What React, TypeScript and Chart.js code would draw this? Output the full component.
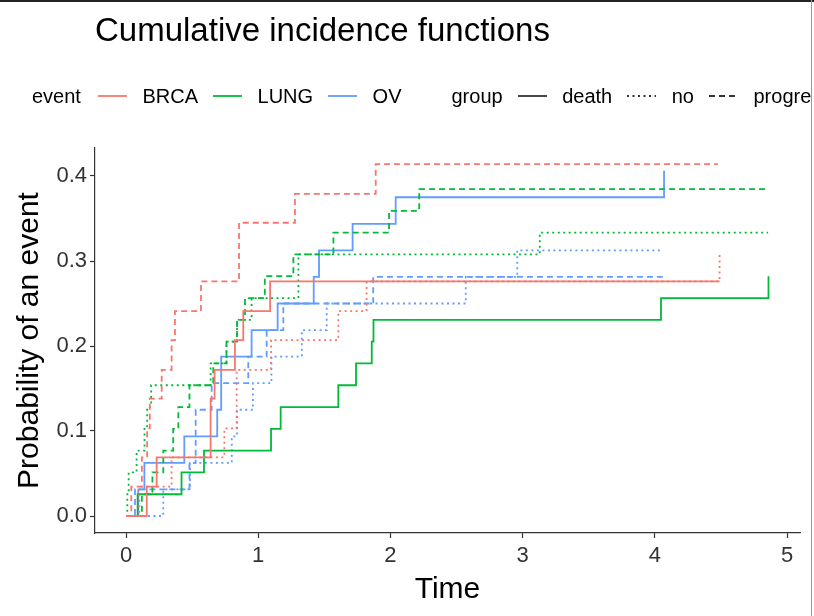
import React, { useEffect, useRef } from 'react';
import { Chart, registerables } from 'chart.js';

Chart.register(...registerables);

const FONT = '"Liberation Sans", Arial, sans-serif';

const TITLE = 'Cumulative incidence functions';
const X_TITLE = 'Time';
const Y_TITLE = 'Probability of an event';

const EVENT_TITLE = 'event';
const GROUP_TITLE = 'group';
const EVENTS = ['BRCA', 'LUNG', 'OV'];
const GROUPS = ['death', 'no', 'progre'];
const EVENT_COLORS = ['#F8766D', '#00BA38', '#619CFF'];
const GROUP_DASHES: number[][] = [[], [2, 3.5], [6, 4]];

const X_TICKS = [0, 1, 2, 3, 4, 5];
const Y_TICKS = [0, 0.1, 0.2, 0.3, 0.4];

// BRCA
const BRCA_DEATH_TIME = [0, 0.157, 0.232, 0.64, 0.67, 0.824, 0.887, 1.09, 4.49];
const BRCA_DEATH_CIF = [0, 0.0345, 0.069, 0.138, 0.172, 0.207, 0.241, 0.276, 0.276];
const BRCA_NO_TIME = [0, 0.1, 0.345, 0.744, 0.837, 1.097, 1.606, 1.82, 4.49];
const BRCA_NO_CIF = [0, 0.0345, 0.069, 0.103, 0.172, 0.207, 0.241, 0.276, 0.31];
const BRCA_PROGRE_TIME = [0, 0.04, 0.12, 0.16, 0.18, 0.27, 0.345, 0.37, 0.567, 0.855, 1.278, 1.889, 4.478];
const BRCA_PROGRE_CIF = [0, 0.0345, 0.069, 0.103, 0.138, 0.172, 0.207, 0.241, 0.276, 0.345, 0.379, 0.414, 0.414];

// LUNG
const LUNG_DEATH_TIME = [0, 0.088, 0.42, 0.59, 1.097, 1.17, 1.606, 1.74, 1.859, 1.872, 4.047, 4.86];
const LUNG_DEATH_CIF = [0, 0.0256, 0.0513, 0.0769, 0.1026, 0.1282, 0.1538, 0.1795, 0.2051, 0.2308, 0.2564, 0.2821];
const LUNG_NO_TIME = [0, 0.01, 0.02, 0.08, 0.14, 0.16, 0.19, 0.64, 0.76, 0.84, 0.95, 1.304, 3.13, 4.857];
const LUNG_NO_CIF = [0, 0.0256, 0.0513, 0.0769, 0.1026, 0.1282, 0.1538, 0.1795, 0.2051, 0.2308, 0.2564, 0.3077, 0.3333, 0.3333];
const LUNG_PROGRE_TIME = [0, 0.12, 0.2, 0.282, 0.357, 0.396, 0.48, 0.66, 0.76, 0.84, 0.9, 1.05, 1.266, 1.569, 1.99, 2.218, 4.846];
const LUNG_PROGRE_CIF = [0, 0.0256, 0.0513, 0.0769, 0.1026, 0.1282, 0.1538, 0.1795, 0.2051, 0.2308, 0.2564, 0.2821, 0.3077, 0.3333, 0.359, 0.3846, 0.3846];

// OV
const OV_DEATH_TIME = [0, 0.093, 0.139, 0.441, 0.69, 0.72, 0.95, 1.147, 1.42, 1.46, 1.714, 2.04, 4.07];
const OV_DEATH_CIF = [0, 0.03125, 0.0625, 0.09375, 0.125, 0.1875, 0.21875, 0.25, 0.28125, 0.3125, 0.34375, 0.375, 0.40625];
const OV_NO_TIME = [0, 0.282, 0.484, 0.8, 0.84, 0.96, 1.1, 1.33, 1.518, 2.57, 2.96, 4.065];
const OV_NO_CIF = [0, 0.03125, 0.0625, 0.09375, 0.125, 0.15625, 0.1875, 0.21875, 0.25, 0.28125, 0.3125, 0.3125];
const OV_PROGRE_TIME = [0, 0.068, 0.48, 0.527, 0.648, 0.925, 1.064, 1.19, 1.87, 4.06];
const OV_PROGRE_CIF = [0, 0.03125, 0.0625, 0.125, 0.15625, 0.1875, 0.21875, 0.25, 0.28125, 0.28125];

const SERIES = [
  { event: 0, group: 0, time: BRCA_DEATH_TIME, cif: BRCA_DEATH_CIF },
  { event: 0, group: 1, time: BRCA_NO_TIME, cif: BRCA_NO_CIF },
  { event: 0, group: 2, time: BRCA_PROGRE_TIME, cif: BRCA_PROGRE_CIF },
  { event: 1, group: 0, time: LUNG_DEATH_TIME, cif: LUNG_DEATH_CIF },
  { event: 1, group: 1, time: LUNG_NO_TIME, cif: LUNG_NO_CIF },
  { event: 1, group: 2, time: LUNG_PROGRE_TIME, cif: LUNG_PROGRE_CIF },
  { event: 2, group: 0, time: OV_DEATH_TIME, cif: OV_DEATH_CIF },
  { event: 2, group: 1, time: OV_NO_TIME, cif: OV_NO_CIF },
  { event: 2, group: 2, time: OV_PROGRE_TIME, cif: OV_PROGRE_CIF },
];

const W = 814;
const H = 616;
const AREA_LEFT = 95;
const AREA_RIGHT = 800;
const AREA_TOP = 148;
const AREA_BOTTOM = 533;
const X_ZERO_PX = 126;
const X_UNIT_PX = 132.2;
const Y_ZERO_PX = 516;
const Y_UNIT_PX = 850;

const X_MIN = -(X_ZERO_PX - AREA_LEFT) / X_UNIT_PX;
const X_MAX = (AREA_RIGHT - X_ZERO_PX) / X_UNIT_PX;
const Y_MIN = -(AREA_BOTTOM - Y_ZERO_PX) / Y_UNIT_PX;
const Y_MAX = (Y_ZERO_PX - AREA_TOP) / Y_UNIT_PX;

const axisTitlePlugin = {
  id: 'axisTitles',
  afterDraw(chart: any) {
    const { ctx, chartArea } = chart;
    ctx.save();
    ctx.fillStyle = '#000';
    ctx.font = `30px ${FONT}`;
    ctx.textAlign = 'center';
    ctx.textBaseline = 'middle';
    ctx.fillText(X_TITLE, (chartArea.left + chartArea.right) / 2, 590);
    ctx.translate(30, (chartArea.top + chartArea.bottom) / 2);
    ctx.rotate(-Math.PI / 2);
    ctx.fillText(Y_TITLE, 0, 0);
    ctx.restore();
  },
};

function KeyLine({ color, dash }: { color: string; dash: number[] }) {
  return (
    <svg width={29} height={6} style={{ display: 'block', flex: '0 0 auto' }}>
      <line
        x1={0}
        y1={3}
        x2={29}
        y2={3}
        stroke={color}
        strokeWidth={1.8}
        strokeDasharray={dash.length ? dash.join(' ') : undefined}
      />
    </svg>
  );
}

export default function App() {
  const canvasRef = useRef<HTMLCanvasElement | null>(null);

  useEffect(() => {
    const canvas = canvasRef.current;
    if (!canvas) return;
    const datasets = SERIES.map((s) => ({
      label: `${EVENTS[s.event]} ${GROUPS[s.group]}`,
      data: s.time.map((t, i) => ({ x: t, y: s.cif[i] })),
      borderColor: EVENT_COLORS[s.event],
      backgroundColor: EVENT_COLORS[s.event],
      borderDash: GROUP_DASHES[s.group],
      borderWidth: 1.8,
      stepped: 'before' as const,
      pointRadius: 0,
      fill: false,
    }));
    const chart = new Chart(canvas, {
      type: 'line',
      data: { datasets },
      options: {
        animation: false,
        responsive: false,
        maintainAspectRatio: false,
        layout: { padding: { top: AREA_TOP, right: W - AREA_RIGHT, left: 0, bottom: 0 } },
        plugins: {
          legend: { display: false },
          title: { display: false },
          tooltip: { enabled: false },
        },
        scales: {
          x: {
            type: 'linear',
            min: X_MIN,
            max: X_MAX,
            afterFit: (s: any) => {
              s.height = H - AREA_BOTTOM;
            },
            afterBuildTicks: (s: any) => {
              s.ticks = X_TICKS.map((v) => ({ value: v }));
            },
            grid: { drawOnChartArea: false, tickLength: 5, color: '#333', tickWidth: 1.2 },
            border: { color: '#333', width: 1.2 },
            ticks: {
              font: { family: FONT, size: 22 },
              color: '#333',
              padding: 5,
              maxRotation: 0,
              callback: (v: any) => String(v),
            },
          },
          y: {
            type: 'linear',
            min: Y_MIN,
            max: Y_MAX,
            afterFit: (s: any) => {
              s.width = AREA_LEFT;
            },
            afterBuildTicks: (s: any) => {
              s.ticks = Y_TICKS.map((v) => ({ value: v }));
            },
            grid: { drawOnChartArea: false, tickLength: 5, color: '#333', tickWidth: 1.2 },
            border: { color: '#333', width: 1.2 },
            ticks: {
              font: { family: FONT, size: 22 },
              color: '#333',
              padding: 3,
              callback: (v: any) => Number(v).toFixed(1),
            },
          },
        },
      },
      plugins: [axisTitlePlugin],
    });
    return () => chart.destroy();
  }, []);

  const legendText = { fontFamily: FONT, fontSize: 20, color: '#000', whiteSpace: 'nowrap' as const, lineHeight: '24px' };

  return (
    <div style={{ position: 'absolute', left: 0, top: 0, width: W, height: H, background: '#fff', overflow: 'hidden' }}>
      <canvas ref={canvasRef} width={W} height={H} style={{ position: 'absolute', left: 0, top: 0, width: W, height: H }} />
      <div style={{ position: 'absolute', left: 95, top: 11, fontFamily: FONT, fontSize: 33, lineHeight: '38px', color: '#000', whiteSpace: 'nowrap' }}>
        {TITLE}
      </div>
      <div style={{ position: 'absolute', left: 0, top: 84, width: 811, height: 24, overflow: 'hidden' }}>
        <div style={{ position: 'absolute', left: 32, top: 0, display: 'flex', alignItems: 'center', height: 24 }}>
          <span style={legendText}>{EVENT_TITLE}</span>
          {EVENTS.map((e, i) => (
            <React.Fragment key={e}>
              <span style={{ width: i === 0 ? 17 : 15 }} />
              <KeyLine color={EVENT_COLORS[i]} dash={[]} />
              <span style={{ width: 15.5 }} />
              <span style={legendText}>{e}</span>
            </React.Fragment>
          ))}
          <span style={{ width: 50 }} />
          <span style={legendText}>{GROUP_TITLE}</span>
          {GROUPS.map((g, i) => (
            <React.Fragment key={g}>
              <span style={{ width: 15 }} />
              <KeyLine color="#333" dash={GROUP_DASHES[i]} />
              <span style={{ width: 15.5 }} />
              <span style={legendText}>{g}</span>
            </React.Fragment>
          ))}
        </div>
      </div>
      <div style={{ position: 'absolute', left: 0, top: 0, width: W, height: 2, background: '#222' }} />
      <div style={{ position: 'absolute', left: 811, top: 0, width: 1, height: H, background: '#9a9a9a' }} />
    </div>
  );
}
